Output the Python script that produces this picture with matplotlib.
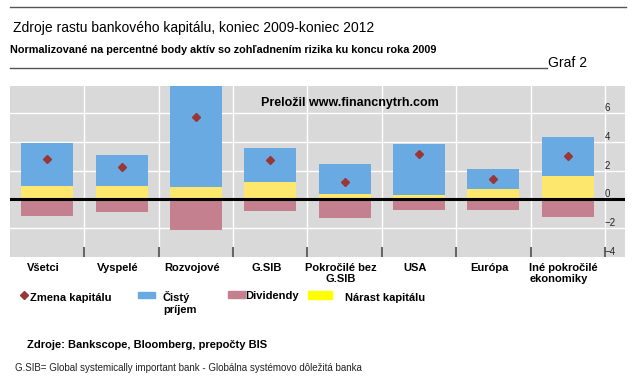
import matplotlib
matplotlib.use("Agg")
import matplotlib.pyplot as plt
from matplotlib.lines import Line2D
from matplotlib.patches import Rectangle
from matplotlib.transforms import ScaledTranslation
import numpy as np

categories = ["Všetci", "Vyspelé", "Rozvojové", "G.SIB", "Pokročilé bez\nG.SIB",
              "USA", "Európa", "Iné pokročilé\nekonomiky"]
capital_raise = [0.93, 0.95, 0.88, 1.19, 0.37, 0.30, 0.70, 1.65]      # Nárast kapitálu
net_income = [3.03, 2.17, 7.05, 2.40, 2.10, 3.59, 1.42, 2.73]         # Čistý príjem
dividends = [-1.15, -0.91, -2.15, -0.84, -1.33, -0.75, -0.75, -1.22]  # Dividendy
capital_change = [2.84, 2.24, 5.78, 2.77, 1.19, 3.17, 1.40, 3.00]     # Zmena kapitálu
ytick_vals = [-4, -2, 0, 2, 4, 6]
ytick_labels = ["\u22124", "\u22122", "0", "2", "4", "6"]

BLUE = "#6aaae2"
YELLOW = "#fde76c"
PINK = "#c4808f"
DIAMOND = "#9a3636"
BG = "#d9d9d9"

NARROW = ["Liberation Sans", "DejaVu Sans"]
W, H = 642, 381
fig = plt.figure(figsize=(W / 100, H / 100), dpi=100)


def fx(px):
    return px / W


def fy(py):
    return 1 - py / H


ax = fig.add_axes([fx(10), fy(257), fx(625) - fx(10), fy(86) - fy(257)])
ax.set_facecolor(BG)
for s in ax.spines.values():
    s.set_visible(False)

x = np.arange(len(categories))
ax.set_xlim(-0.5, 7.77)
ax.set_ylim(-4.03, 7.92)

# grid
for v in [-2, 2, 4, 6]:
    ax.axhline(v, color="white", lw=1, zorder=1)
for k in range(1, len(categories) + 1):
    ax.axvline(k - 0.5, color="white", lw=1, zorder=1)

bw = 0.7
ax.bar(x, capital_raise, bw, color=YELLOW, zorder=2)
ax.bar(x, net_income, bw, bottom=capital_raise, color=BLUE, zorder=2)
ax.bar(x, dividends, bw, color=PINK, zorder=2)
ax.axhline(0, color="black", lw=2.2, zorder=3)
ax.plot(x, capital_change, ls="none", marker="D", ms=4.5, color=DIAMOND, zorder=4)

# ticks
ax.set_yticks([])
ax.set_xticks(x)
ax.set_xticklabels(categories, fontsize=8, fontweight="bold", family=NARROW,
                   va="top", linespacing=1.2)
ax.tick_params(axis="x", length=0, pad=4)
shift = ScaledTranslation(-4 / 100, 0, fig.dpi_scale_trans)
for lbl in ax.get_xticklabels():
    lbl.set_transform(lbl.get_transform() + shift)
ax.get_xticklabels()[-1].set_multialignment("left")
ax.set_xticks(np.arange(1, len(categories) + 1) - 0.5, minor=True)
ax.tick_params(axis="x", which="minor", direction="in", length=7, width=1.5,
               color="#666666")
for v, lab in zip(ytick_vals, ytick_labels):
    ax.text(7.5, v + 0.35, lab, fontsize=7, family=NARROW, color="#222222",
            ha="left", va="center", zorder=5)

# watermark
ax.text(0.553, 0.9, "Preložil www.financnytrh.com", transform=ax.transAxes,
        family=NARROW, fontsize=9, fontweight="bold", ha="center", va="center", zorder=5)

# header
fig.add_artist(Line2D([fx(10), fx(626)], [fy(7), fy(7)], color="#555555", lw=1))
fig.text(fx(13), fy(28), "Zdroje rastu bankového kapitálu, koniec 2009-koniec 2012",
         family=NARROW, fontsize=10, va="center", ha="left")
fig.text(fx(10), fy(50), "Normalizované na percentné body aktív so zohľadnením rizika ku koncu roka 2009",
         family=NARROW, fontsize=7.8, fontweight="bold", va="center", ha="left")
fig.add_artist(Line2D([fx(10), fx(547)], [fy(68), fy(68)], color="#555555", lw=1))
fig.text(fx(548), fy(63), "Graf 2", family=NARROW, fontsize=10, va="center", ha="left")

# legend
ly = 298
fs = 8
fig.add_artist(Line2D([fx(24)], [fy(295)], marker="D", ms=4, color=DIAMOND, ls="none"))
fig.text(fx(30), fy(ly), "Zmena kapitálu", family=NARROW, fontsize=fs, fontweight="bold",
         va="center")
fig.add_artist(Rectangle((fx(138), fy(298)), fx(17), fy(292) - fy(298), color=BLUE))
fig.text(fx(163), fy(ly - 1), "Čistý", family=NARROW, fontsize=fs, fontweight="bold",
         va="center")
fig.text(fx(163), fy(ly + 12), "príjem", family=NARROW, fontsize=fs, fontweight="bold",
         va="center")
fig.add_artist(Rectangle((fx(228), fy(298)), fx(17), fy(291) - fy(298), color=PINK))
fig.text(fx(245), fy(ly - 2), "Dividendy", family=NARROW, fontsize=fs, fontweight="bold",
         va="center")
fig.add_artist(Rectangle((fx(308), fy(299)), fx(24), fy(291) - fy(299), color="#ffff00"))
fig.text(fx(345), fy(ly), "Nárast kapitálu", family=NARROW, fontsize=fs, fontweight="bold",
         va="center")

# footer
fig.text(fx(27), fy(345), "Zdroje: Bankscope, Bloomberg, prepočty BIS", family=NARROW,
         fontsize=8, fontweight="bold", va="center")
fig.text(fx(15), fy(368),
         "G.SIB= Global systemically important bank - Globálna systémovo dôležitá banka",
         family=NARROW, fontsize=7, va="center", color="#222222")

fig.savefig("out.png", dpi=100, facecolor="white")
